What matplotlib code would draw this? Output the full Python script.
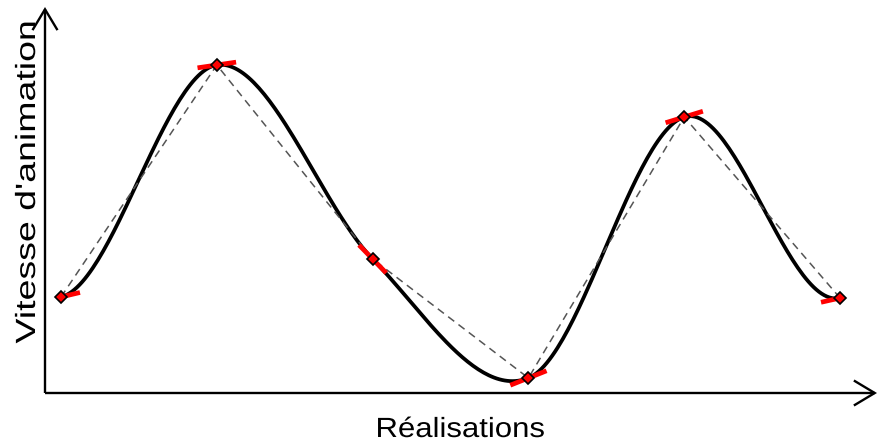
import numpy as np
import matplotlib
matplotlib.use("Agg")
import matplotlib.pyplot as plt
from matplotlib.patches import FancyArrowPatch
from matplotlib.patheffects import AbstractPathEffect
from matplotlib.transforms import Affine2D

plt.rcParams["font.family"] = ["Liberation Sans", "DejaVu Sans"]

# Key frames: realisation index, animation speed, and tangent slope at each key
realisations = [0, 1, 2, 3, 4, 5]
vitesse = [0.96, 3.28, 1.34, 0.15, 2.76, 0.95]
pentes = [0.37, 0.23, -1.60, 0.62, 0.48, 0.35]

x_label = "Réalisations"
y_label = "Vitesse d'animation"


class Stretch(AbstractPathEffect):
    """Stretch a text path along its baseline, around its own centre."""

    def __init__(self, sx):
        super().__init__()
        self.sx = sx

    def draw_path(self, renderer, gc, tpath, affine, rgbFace=None):
        xs = tpath.vertices[:, 0]
        cx = 0.5 * (xs.min() + xs.max())
        t = Affine2D().translate(-cx, 0).scale(self.sx, 1).translate(cx, 0) + affine
        renderer.draw_path(gc, tpath, t, rgbFace)


def hermite(x, y, m, n=60):
    xs, ys = [], []
    for i in range(len(x) - 1):
        h = x[i + 1] - x[i]
        t = np.linspace(0, 1, n)
        h00 = 2 * t**3 - 3 * t**2 + 1
        h10 = t**3 - 2 * t**2 + t
        h01 = -2 * t**3 + 3 * t**2
        h11 = t**3 - t**2
        xs.append(x[i] + h * t)
        ys.append(h00 * y[i] + h10 * h * m[i] + h01 * y[i + 1] + h11 * h * m[i + 1])
    return np.concatenate(xs), np.concatenate(ys)


W, H, DPI = 879, 446, 100
fig = plt.figure(figsize=(W / DPI, H / DPI), dpi=DPI)
ax = fig.add_axes([0, 0, 1, 1])
ax.set_xlim(-0.3915, 5.250)
ax.set_ylim(-0.53, 3.93)
ax.axis("off")

# smooth curve through the keys
cx, cy = hermite(np.array(realisations, float), np.array(vitesse, float),
                 np.array(pentes, float))
ax.plot(cx, cy, color="black", lw=2.7, solid_capstyle="round", zorder=2)

# straight segments between keys
ax.plot(realisations, vitesse, color="#555555", lw=1.1,
        linestyle=(0, (5, 3.5)), zorder=3)

# tangent handles, fixed length on screen
fig.canvas.draw()
half = 19.5  # pixels
n = len(realisations)
for i, (xk, yk, mk) in enumerate(zip(realisations, vitesse, pentes)):
    p0 = ax.transData.transform((xk, yk))
    p1 = ax.transData.transform((xk + 1.0, yk + mk))
    d = (p1 - p0) / np.hypot(*(p1 - p0))
    a = p0 - d * half if i > 0 else p0
    b = p0 + d * half if i < n - 1 else p0
    (xa, ya), (xb, yb) = ax.transData.inverted().transform([a, b])
    ax.plot([xa, xb], [ya, yb], color="red", lw=3.4, solid_capstyle="butt", zorder=4)

ax.plot(realisations, vitesse, linestyle="none", marker="D", ms=6,
        markerfacecolor="red", markeredgecolor="black", mew=1.2, zorder=5)

# axes with open arrow heads
ox, oy = 45 / W, 1 - 393 / H
arrow_kw = dict(arrowstyle="->,head_length=0.75,head_width=0.45", mutation_scale=20,
                color="black", lw=1.7, transform=ax.transAxes, clip_on=False,
                shrinkA=0, shrinkB=0, joinstyle="miter", capstyle="butt")
ax.add_patch(FancyArrowPatch((ox, oy), (877 / W, oy), **arrow_kw))
ax.add_patch(FancyArrowPatch((ox, oy), (ox, 1 - 7 / H), **arrow_kw))

ax.text(460 / W, 1 - 437 / H, x_label, transform=ax.transAxes, fontsize=20,
        ha="center", va="baseline", path_effects=[Stretch(1.12)])
ax.text(35 / W, 1 - 182.5 / H, y_label, transform=ax.transAxes, fontsize=20,
        rotation=90, rotation_mode="anchor", ha="center", va="baseline",
        path_effects=[Stretch(1.35)])

fig.savefig("out.png", dpi=DPI)
